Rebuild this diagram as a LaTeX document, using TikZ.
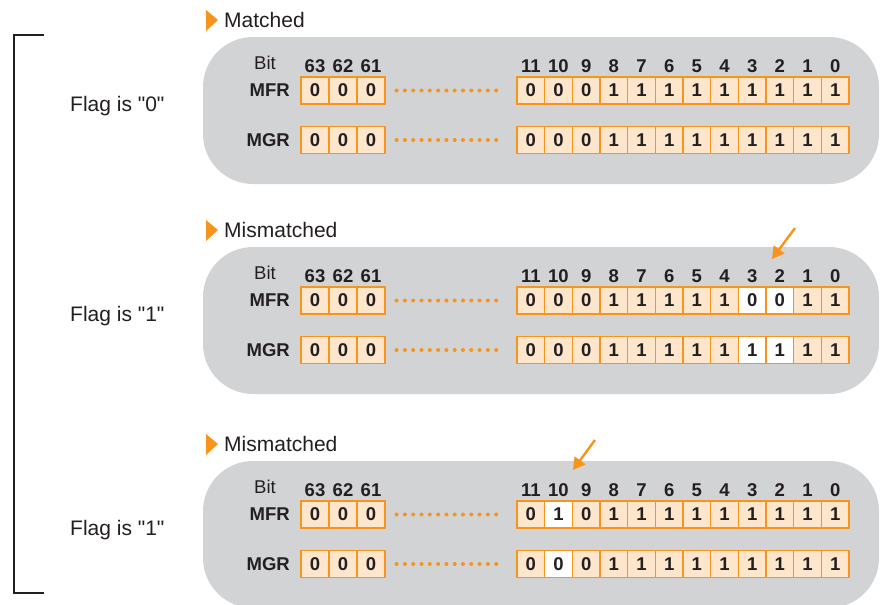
\documentclass[tikz,border=0pt]{standalone}
\usepackage{fontspec}
\setmainfont{Liberation Sans}[Ligatures=TeXOff]
\usepackage{tikz}
\usetikzlibrary{arrows.meta}
\definecolor{PanelGray}{HTML}{D1D3D4}
\definecolor{BitOrange}{HTML}{F7941D}
\definecolor{BitPeach}{HTML}{FDE6CC}
\definecolor{BitText}{HTML}{231F20}
\newcommand{\bigtxt}{\fontsize{21}{21}\selectfont}
\newcommand{\bittxt}{\fontsize{18.5}{18.5}\selectfont\bfseries}

\tikzset{
  panel/.style={fill=PanelGray,rounded corners=50pt},
  cell/.style={draw=BitOrange,fill=BitPeach,line width=1.2pt,minimum width=27.67pt,
    minimum height=27pt,inner sep=0pt,font=\bittxt,text=BitText},
  wcell/.style={cell,fill=white},
  bitno/.style={font=\bittxt,text=BitText,inner sep=0pt},
  regname/.style={font=\bittxt,text=BitText,anchor=east,inner sep=0pt},
  heading/.style={font=\bigtxt,text=BitText,anchor=west,inner sep=0pt},
  flagtxt/.style={font=\bigtxt,text=BitText,anchor=west,inner sep=0pt},
  dotline/.style={draw=BitOrange,line width=4pt,line cap=round,
    dash pattern=on 0pt off 8.3pt,shorten <=11pt,shorten >=13pt},
  pointer/.style={draw=BitOrange,line width=2.4pt,-{Triangle[length=12pt,width=13pt]}}
}

\begin{document}
\begin{tikzpicture}[x=1pt,y=-1pt]
  \useasboundingbox (0,0) rectangle (881,605);
  % bracket
  \draw[BitText,line width=2.2pt] (44,35) -- (14,35) -- (14,593) -- (44,593);
  % the three cases
  \foreach \p/\off/\head/\flag/\mfr/\mgr in {
      a/0/Matched/0/{0/cell,0/cell,0/cell,1/cell,1/cell,1/cell,1/cell,1/cell,1/cell,1/cell,1/cell,1/cell}/{0/cell,0/cell,0/cell,1/cell,1/cell,1/cell,1/cell,1/cell,1/cell,1/cell,1/cell,1/cell},
      b/210/Mismatched/1/{0/cell,0/cell,0/cell,1/cell,1/cell,1/cell,1/cell,1/cell,0/wcell,0/wcell,1/cell,1/cell}/{0/cell,0/cell,0/cell,1/cell,1/cell,1/cell,1/cell,1/cell,1/wcell,1/wcell,1/cell,1/cell},
      c/424/Mismatched/1/{0/cell,1/wcell,0/cell,1/cell,1/cell,1/cell,1/cell,1/cell,1/cell,1/cell,1/cell,1/cell}/{0/cell,0/wcell,0/cell,1/cell,1/cell,1/cell,1/cell,1/cell,1/cell,1/cell,1/cell,1/cell}} {
    \begin{scope}[yshift=-\off pt]
      \fill[BitOrange] (206,10) -- (218,20) -- (206,31) -- cycle;
      \node[heading] (head-\p) at (224,20) {\head};
      \node[flagtxt] (flag-\p) at (70,106) {Flag is "\flag"};
      \fill[panel] (203,37) rectangle (879,184);
      \node[font=\fontsize{18.5}{18.5}\selectfont,text=BitText,inner sep=0pt] (bit-\p) at (265,63) {Bit};
      \node[regname] (mfr-\p) at (290,90.5) {MFR};
      \node[regname] (mgr-\p) at (290,140) {MGR};
      % bits 63..61
      \foreach \n [count=\i from 0] in {63,62,61} {
        \node[bitno] (no-\p-\n) at (315+\i*28,66) {\n};
        \node[cell,minimum width=28pt] (mfr-\p-\n) at (315+\i*28,90.5) {0};
        \node[cell,minimum width=28pt] (mgr-\p-\n) at (315+\i*28,140) {0};
      }
      % bits 11..0
      \foreach \n [count=\i from 0] in {11,10,...,0}
        \node[bitno] (no-\p-\n) at (530.8+\i*27.67,66) {\n};
      \foreach \v/\s [count=\i from 0] in \mfr
        \node[\s] (mfr-\p-c\i) at (530.8+\i*27.67,90.5) {\v};
      \foreach \v/\s [count=\i from 0] in \mgr
        \node[\s] (mgr-\p-c\i) at (530.8+\i*27.67,140) {\v};
      \draw[dotline] (mfr-\p-61.east) -- (mfr-\p-c0.west);
      \draw[dotline] (mgr-\p-61.east) -- (mgr-\p-c0.west);
    \end{scope}
  }
  % pointers to the differing bits
  \coordinate (tail-b) at (795,228);
  \coordinate (tip-b) at (772,259);
  \coordinate (tail-c) at (595,440);
  \coordinate (tip-c) at (573,470);
  \draw[pointer] (tail-b) -- (tip-b);
  \draw[pointer] (tail-c) -- (tip-c);
\end{tikzpicture}
\end{document}
